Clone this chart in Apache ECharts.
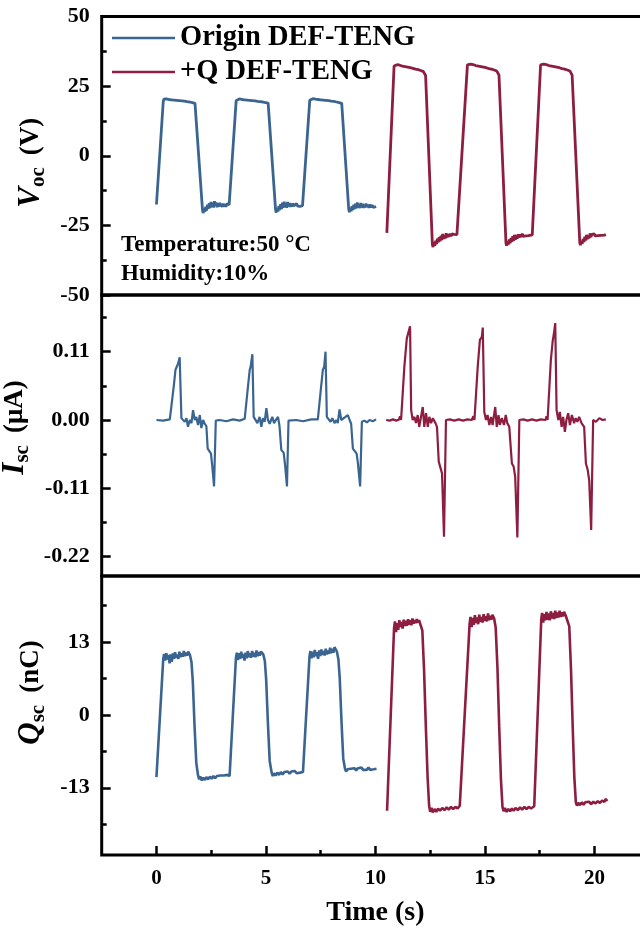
<!DOCTYPE html>
<html>
<head>
<meta charset="utf-8">
<script src="https://cdn.jsdelivr.net/npm/echarts@6/dist/echarts.min.js"></script>
<style>html,body{margin:0;padding:0;background:#fff}#c{width:640px;height:931px}</style>
</head>
<body>
<div id="c"></div>
<script>
const seriesNames = ['Origin DEF-TENG', '+Q DEF-TENG'];
const timeTickLabels = [0, 5, 10, 15, 20];
const timeMinorTicks = [2.5, 7.5, 12.5, 17.5];
const vocTickLabels = [-50, -25, 0, 25, 50];
const vocMinorTicks = [-37.5, -12.5, 12.5, 37.5];
const iscTickLabels = [-0.22, -0.11, 0, 0.11];
const iscMinorTicks = [-0.165, -0.055, 0.055, 0.165];
const qscTickLabels = [-13, 0, 13];
const qscMinorTicks = [-19.5, -6.5, 6.5, 19.5];
const noteLines = ['Temperature:50 °C', 'Humidity:10%'];

const vocOrigin = [[0,-17.5],[0.31,19.4],[0.34,20.3],[0.39,19.7],[0.44,20.4],[0.5,19.8],[0.56,20.2],[0.62,19.6],[0.68,20.1],[0.74,19.6],[0.8,20.0],[0.86,19.5],[0.92,19.9],[0.98,19.4],[1.04,19.8],[1.1,19.3],[1.16,19.7],[1.22,19.2],[1.28,19.6],[1.34,19.1],[1.4,19.4],[1.46,18.9],[1.52,19.3],[1.58,18.8],[1.64,19.1],[1.7,18.6],[1.76,18.8],[1.82,18.2],[2.1,-19.2],[2.13,-20.6],[2.17,-18.9],[2.21,-20.1],[2.25,-18.3],[2.29,-19.7],[2.33,-17.6],[2.37,-19.0],[2.41,-17.0],[2.45,-18.8],[2.49,-16.6],[2.53,-18.4],[2.57,-16.9],[2.61,-18.6],[2.65,-16.3],[2.69,-18.0],[2.73,-16.8],[2.77,-18.5],[2.81,-17.1],[2.85,-18.3],[2.89,-16.9],[2.93,-18.1],[2.97,-17.3],[3.01,-18.4],[3.05,-17.2],[3.09,-18.2],[3.13,-17.4],[3.17,-18.3],[3.21,-17.3],[3.26,-18.0],[3.32,-17.6],
[3.64,19.8],[3.67,20.5],[3.72,19.9],[3.78,20.4],[3.84,19.8],[3.9,20.2],[3.96,19.7],[4.02,20.1],[4.08,19.6],[4.14,20.0],[4.2,19.5],[4.26,19.9],[4.32,19.4],[4.38,19.8],[4.44,19.3],[4.5,19.7],[4.56,19.2],[4.62,19.5],[4.68,19.0],[4.74,19.4],[4.8,18.9],[4.86,19.3],[4.92,18.8],[4.98,19.1],[5.04,18.7],[5.1,18.9],[5.16,18.3],[5.44,-19.4],[5.47,-20.4],[5.51,-18.8],[5.55,-20.0],[5.59,-18.0],[5.63,-19.5],[5.67,-17.4],[5.71,-19.1],[5.75,-16.9],[5.79,-18.7],[5.83,-16.5],[5.87,-18.4],[5.91,-17.0],[5.95,-18.7],[5.99,-16.6],[6.03,-18.2],[6.07,-17.0],[6.11,-18.4],[6.15,-17.2],[6.19,-18.3],[6.23,-17.1],[6.27,-18.0],[6.31,-17.3],[6.35,-18.3],[6.4,-17.2],[6.45,-18.1],[6.5,-17.4],[6.55,-18.2],[6.6,-17.5],[6.67,-17.9],
[7.0,19.9],[7.03,20.6],[7.08,20.0],[7.14,20.5],[7.2,19.9],[7.26,20.3],[7.32,19.8],[7.38,20.2],[7.44,19.7],[7.5,20.1],[7.56,19.6],[7.62,20.0],[7.68,19.5],[7.74,19.9],[7.8,19.4],[7.86,19.8],[7.92,19.3],[7.98,19.6],[8.04,19.1],[8.1,19.5],[8.16,19.0],[8.22,19.3],[8.28,18.8],[8.34,19.1],[8.4,18.7],[8.46,18.8],[8.5,18.2],[8.78,-19.2],[8.81,-20.3],[8.85,-18.7],[8.89,-19.9],[8.93,-18.1],[8.97,-19.5],[9.01,-17.6],[9.05,-19.1],[9.09,-17.2],[9.13,-18.9],[9.17,-16.8],[9.21,-18.6],[9.25,-17.4],[9.29,-18.8],[9.33,-17.0],[9.37,-18.5],[9.41,-17.3],[9.45,-18.7],[9.49,-17.5],[9.53,-18.6],[9.57,-17.2],[9.61,-18.4],[9.65,-17.6],[9.7,-18.7],[9.75,-17.5],[9.8,-18.5],[9.85,-17.7],[9.9,-18.6],[9.95,-17.9],[10.03,-18.2]];

const vocCharged = [[10.52,-27.7],[10.85,32.2],[10.88,32.9],[10.93,32.3],[10.99,32.7],[11.05,32.1],[11.11,32.5],[11.17,31.9],[11.23,32.2],[11.29,31.7],[11.35,32.0],[11.41,31.5],[11.47,31.8],[11.53,31.3],[11.59,31.6],[11.65,31.1],[11.71,31.4],[11.77,30.9],[11.83,31.1],[11.89,30.6],[11.95,30.9],[12.01,30.4],[12.07,30.6],[12.13,30.0],[12.19,30.2],[12.25,29.5],[12.29,28.8],[12.6,-31.9],[12.63,-32.8],[12.67,-31.1],[12.71,-32.3],[12.75,-30.5],[12.79,-31.7],[12.83,-29.8],[12.87,-31.1],[12.91,-29.3],[12.95,-30.7],[12.99,-28.7],[13.03,-30.3],[13.07,-28.1],[13.11,-29.9],[13.15,-28.6],[13.19,-29.7],[13.23,-27.8],[13.27,-29.3],[13.31,-28.2],[13.35,-29.1],[13.4,-28.0],[13.45,-28.9],[13.5,-28.1],[13.55,-28.8],[13.6,-28.2],[13.66,-28.9],[13.72,-28.3],[13.8,-28.5],
[14.2,32.6],[14.23,33.1],[14.28,32.5],[14.34,32.9],[14.4,32.3],[14.46,32.7],[14.52,32.1],[14.58,32.4],[14.64,31.9],[14.7,32.2],[14.76,31.7],[14.82,32.0],[14.88,31.5],[14.94,31.8],[15.0,31.3],[15.06,31.6],[15.12,31.1],[15.18,31.3],[15.24,30.8],[15.3,31.1],[15.36,30.6],[15.42,30.8],[15.48,30.2],[15.54,30.4],[15.6,29.8],[15.64,29.0],[15.96,-31.4],[15.99,-32.3],[16.03,-30.8],[16.07,-31.9],[16.11,-30.1],[16.15,-31.4],[16.19,-29.5],[16.23,-30.9],[16.27,-28.9],[16.31,-30.5],[16.35,-28.4],[16.39,-30.1],[16.43,-28.7],[16.47,-29.8],[16.51,-28.2],[16.55,-29.4],[16.6,-28.3],[16.65,-29.2],[16.7,-28.0],[16.75,-28.9],[16.8,-28.2],[16.86,-28.8],[16.92,-28.1],[16.98,-28.7],[17.05,-28.2],[17.16,-28.4],
[17.54,32.6],[17.57,33.1],[17.62,32.5],[17.68,32.9],[17.74,32.3],[17.8,32.7],[17.86,32.1],[17.92,32.4],[17.98,31.9],[18.04,32.2],[18.1,31.7],[18.16,32.0],[18.22,31.5],[18.28,31.8],[18.34,31.3],[18.4,31.6],[18.46,31.1],[18.52,31.3],[18.58,30.8],[18.64,31.1],[18.7,30.6],[18.76,30.8],[18.82,30.2],[18.88,30.4],[18.94,29.8],[18.98,29.0],[19.33,-31.2],[19.36,-32.1],[19.4,-30.6],[19.44,-31.6],[19.48,-29.9],[19.52,-31.0],[19.56,-29.1],[19.6,-30.4],[19.64,-28.4],[19.68,-29.9],[19.72,-28.8],[19.76,-29.6],[19.8,-27.9],[19.84,-29.2],[19.88,-28.3],[19.93,-29.0],[19.98,-28.0],[20.04,-28.8],[20.1,-28.1],[20.16,-28.7],[20.22,-28.0],[20.3,-28.6],[20.38,-28.1],[20.45,-28.5],[20.52,-28.3]];

const iscOrigin = [[0,0],[0.3,-0.001],[0.61,0.001],[0.7,0.002],[0.79,0.054],[0.87,0.081],[0.94,0.083],[0.99,0.091],[1.06,0.101],[1.14,0.003],[1.22,0.005],[1.29,-0.003],[1.37,0.003],[1.44,-0.011],[1.52,0],[1.6,-0.005],[1.67,0.016],[1.75,0],[1.82,0.005],[1.9,-0.008],[1.98,0.008],[2.05,-0.013],[2.13,0],[2.2,-0.006],[2.28,-0.01],[2.34,-0.046],[2.43,-0.049],[2.49,-0.054],[2.55,-0.075],[2.63,-0.107],[2.71,-0.001],[2.89,0],[3.19,-0.002],[3.5,0.001],[3.8,-0.001],[4.03,0.002],
[4.1,0.001],[4.18,0.054],[4.26,0.081],[4.3,0.086],[4.38,0.106],[4.44,0.005],[4.53,0.008],[4.61,-0.005],[4.71,0.005],[4.79,-0.011],[4.86,0.003],[4.94,-0.003],[5.02,0.019],[5.09,0],[5.17,-0.006],[5.29,0.005],[5.37,-0.005],[5.47,0.001],[5.55,0.005],[5.62,-0.01],[5.7,-0.048],[5.81,-0.053],[5.88,-0.075],[5.96,-0.107],[6.03,-0.001],[6.38,0],[6.69,-0.002],[7.07,0.001],[7.37,0.001],
[7.45,0.002],[7.52,0.054],[7.6,0.081],[7.66,0.086],[7.72,0.11],[7.78,0.005],[7.87,0.005],[7.95,-0.003],[8.03,0.003],[8.13,-0.005],[8.21,0],[8.28,-0.005],[8.36,0.017],[8.44,0],[8.51,-0.003],[8.63,0.005],[8.74,0.008],[8.82,0],[8.89,-0.006],[8.97,-0.046],[9.06,-0.049],[9.14,-0.054],[9.2,-0.07],[9.3,-0.107],[9.38,-0.003],[9.5,-0.001],[9.61,-0.004],[9.73,0],[9.88,-0.002],[10.03,0.001]];

const iscCharged = [[10.49,0],[10.65,-0.001],[10.8,0.001],[10.95,-0.001],[11.08,0.001],[11.12,0.006],[11.17,0],[11.25,-0.001],[11.32,0.086],[11.43,0.131],[11.52,0.134],[11.58,0.151],[11.63,0.016],[11.7,0],[11.78,0.005],[11.85,-0.005],[11.93,0.008],[12.0,-0.011],[12.08,0.005],[12.16,0.021],[12.23,-0.011],[12.31,0.011],[12.39,-0.011],[12.46,0.005],[12.54,-0.005],[12.62,0.003],[12.74,-0.005],[12.81,-0.011],[12.89,-0.067],[12.95,-0.07],[13.04,-0.086],[13.13,-0.188],[13.22,0],[13.4,0.001],[13.6,-0.001],[13.8,0.001],[14.0,-0.001],[14.2,0.001],[14.4,0],[14.47,0.006],[14.52,0],[14.59,-0.001],
[14.67,0.086],[14.77,0.129],[14.86,0.134],[14.9,0.149],[14.97,0.013],[15.05,0],[15.12,0.008],[15.2,-0.008],[15.28,0.005],[15.35,-0.008],[15.47,0.021],[15.54,-0.011],[15.62,0.008],[15.68,-0.008],[15.77,0.003],[15.87,-0.008],[15.95,0.008],[16.02,-0.005],[16.11,-0.011],[16.23,-0.07],[16.31,-0.075],[16.38,-0.091],[16.48,-0.189],[16.57,0],[16.75,0.001],[16.95,-0.001],[17.15,0.001],[17.35,-0.001],[17.55,0.001],[17.77,0],[17.81,0.006],[17.86,0],
[18.01,0.097],[18.09,0.126],[18.16,0.142],[18.21,0.156],[18.27,0.016],[18.35,0],[18.42,0.013],[18.5,-0.011],[18.57,0.005],[18.65,-0.019],[18.72,0],[18.8,0.011],[18.88,-0.008],[18.97,0.008],[19.07,-0.005],[19.14,0.003],[19.22,-0.003],[19.3,0.005],[19.41,-0.005],[19.53,-0.011],[19.61,-0.07],[19.69,-0.08],[19.76,-0.097],[19.85,-0.177],[19.94,0],[20.07,-0.003],[20.22,0.003],[20.37,0],[20.52,0.001]];

const qscOrigin = [[0,-11.1],[0.31,10.0],[0.35,10.9],[0.4,9.7],[0.45,11.0],[0.5,9.9],[0.55,10.7],[0.6,9.2],[0.65,10.8],[0.7,9.5],[0.75,11.0],[0.8,10.0],[0.85,11.2],[0.9,10.2],[0.95,10.8],[1.0,10.0],[1.05,11.3],[1.1,10.3],[1.15,11.0],[1.2,10.4],[1.25,11.4],[1.3,10.5],[1.35,11.1],[1.4,10.6],[1.45,11.3],[1.53,10.7],[1.6,9.4],[1.66,6.0],[1.74,-2.0],[1.82,-8.6],[1.9,-10.8],[1.95,-11.5],[2.0,-11.0],[2.07,-11.7],[2.14,-11.2],[2.21,-11.6],[2.28,-11.1],[2.36,-11.5],[2.44,-11.0],[2.52,-11.4],[2.6,-10.9],[2.68,-11.3],[2.76,-10.9],[2.84,-11.2],[2.92,-10.8],[3.0,-11.1],[3.08,-10.8],[3.16,-11.0],[3.24,-10.7],[3.34,-10.9],
[3.63,10.2],[3.67,11.1],[3.72,9.8],[3.77,11.0],[3.82,10.0],[3.87,11.3],[3.92,10.2],[3.97,10.9],[4.02,9.7],[4.07,11.1],[4.12,10.1],[4.17,11.4],[4.22,10.3],[4.27,11.0],[4.32,10.2],[4.37,11.4],[4.42,10.4],[4.47,11.1],[4.52,10.3],[4.57,11.5],[4.62,10.5],[4.67,11.2],[4.72,10.6],[4.77,11.3],[4.88,10.8],[4.95,9.6],[5.01,6.3],[5.09,-1.5],[5.17,-8.2],[5.26,-10.3],[5.31,-10.9],[5.37,-10.4],[5.44,-10.8],[5.52,-10.3],[5.6,-10.7],[5.68,-10.2],[5.76,-10.6],[5.84,-10.2],[5.92,-10.5],[6.0,-10.1],[6.08,-10.5],[6.16,-10.1],[6.24,-10.4],[6.32,-10.0],[6.4,-10.4],[6.48,-10.1],[6.56,-10.3],[6.69,-10.2],
[6.99,10.5],[7.03,11.4],[7.08,10.1],[7.13,11.3],[7.18,10.3],[7.23,11.6],[7.28,10.5],[7.33,11.2],[7.38,10.0],[7.43,11.5],[7.48,10.5],[7.53,11.7],[7.58,10.7],[7.63,11.4],[7.68,10.6],[7.73,11.8],[7.78,10.8],[7.83,11.5],[7.88,10.9],[7.93,12.0],[7.98,11.0],[8.03,11.8],[8.08,11.1],[8.13,12.1],[8.24,11.3],[8.31,9.9],[8.37,6.5],[8.45,-1.2],[8.53,-7.8],[8.61,-9.6],[8.66,-10.1],[8.72,-9.7],[8.8,-10.0],[8.88,-9.6],[8.96,-9.9],[9.04,-9.5],[9.12,-9.9],[9.2,-9.5],[9.28,-9.8],[9.36,-9.4],[9.44,-9.8],[9.52,-9.5],[9.6,-9.8],[9.68,-9.4],[9.76,-9.8],[9.84,-9.5],[9.92,-9.7],[10.05,-9.6]];

const qscCharged = [[10.53,-17.1],[10.85,15.5],[10.89,16.7],[10.94,14.8],[10.99,16.4],[11.04,15.2],[11.09,16.9],[11.14,15.7],[11.19,16.6],[11.24,15.4],[11.29,17.0],[11.34,15.9],[11.39,16.8],[11.44,15.9],[11.49,17.1],[11.54,16.1],[11.59,16.9],[11.64,16.0],[11.69,17.2],[11.74,16.3],[11.79,16.9],[11.84,16.4],[11.89,17.1],[11.94,16.5],[11.99,16.9],[12.07,16.6],[12.14,15.1],[12.22,8.0],[12.3,-2.0],[12.38,-11.0],[12.45,-16.2],[12.5,-17.3],[12.56,-16.6],[12.62,-17.4],[12.7,-16.8],[12.78,-17.3],[12.86,-16.7],[12.95,-17.1],[13.05,-16.6],[13.15,-17.0],[13.25,-16.5],[13.35,-16.9],[13.45,-16.4],[13.55,-16.8],[13.65,-16.4],[13.75,-16.7],[13.85,-16.2],[13.93,-16.4],
[14.3,16.3],[14.34,17.5],[14.39,15.7],[14.44,17.3],[14.49,16.1],[14.54,17.8],[14.59,16.4],[14.64,17.4],[14.69,16.2],[14.74,17.9],[14.79,16.6],[14.84,17.5],[14.89,16.5],[14.94,18.0],[14.99,16.8],[15.04,17.6],[15.09,16.7],[15.14,18.1],[15.19,16.9],[15.24,17.7],[15.29,17.0],[15.34,17.9],[15.42,17.2],[15.49,15.6],[15.57,8.5],[15.65,-2.0],[15.73,-11.5],[15.8,-16.4],[15.85,-17.2],[15.91,-16.6],[15.99,-17.3],[16.07,-16.8],[16.15,-17.2],[16.23,-16.7],[16.31,-17.1],[16.4,-16.6],[16.5,-17.0],[16.6,-16.5],[16.7,-16.9],[16.8,-16.4],[16.9,-16.8],[17.0,-16.4],[17.1,-16.7],[17.25,-16.3],
[17.57,17.0],[17.61,18.2],[17.66,16.5],[17.71,18.0],[17.76,16.9],[17.81,18.4],[17.86,17.0],[17.91,18.1],[17.96,16.9],[18.01,18.5],[18.06,17.2],[18.11,18.2],[18.16,17.1],[18.21,18.6],[18.26,17.3],[18.31,18.3],[18.36,17.4],[18.41,18.6],[18.46,17.5],[18.51,18.3],[18.56,17.6],[18.61,18.4],[18.69,17.7],[18.78,17.4],[18.85,15.8],[18.93,8.0],[19.01,-2.5],[19.08,-11.0],[19.15,-15.6],[19.2,-16.2],[19.26,-15.7],[19.34,-16.1],[19.42,-15.6],[19.5,-16.0],[19.58,-15.6],[19.66,-15.9],[19.75,-15.5],[19.85,-15.9],[19.95,-15.5],[20.05,-15.8],[20.15,-15.4],[20.25,-15.7],[20.35,-15.3],[20.45,-15.5],[20.52,-15.0],[20.58,-15.4]];

const FONT = '"Liberation Serif", "Times New Roman", serif';
const BLUE = '#3b6591';
const RED = '#8d1e40';
const GL = 101.7, GW = 547.5;
const grids = [
  {left: GL, width: GW, top: 16.5, height: 278.5},
  {left: GL, width: GW, top: 295, height: 281},
  {left: GL, width: GW, top: 576, height: 279}
].map(g => Object.assign(g, {show: true, borderColor: '#000', borderWidth: 3, backgroundColor: 'transparent', outerBoundsMode: 'none', containLabel: false}));

const tickLine = {color: '#000', width: 2.5};
const noLine = {show: false, onZero: false};

function yAxes(gi, min, max, labels, minors, fmt, name, pad) {
  const rich = {
    i: {fontFamily: FONT, fontSize: 31, fontWeight: 'bold', fontStyle: 'italic', color: '#000', lineHeight: 36},
    s: {fontFamily: FONT, fontSize: 21, fontWeight: 'bold', color: '#000', lineHeight: 21, verticalAlign: 'bottom'},
    n: {fontFamily: FONT, fontSize: 27, fontWeight: 'bold', color: '#000', lineHeight: 36, padding: [0, 0, 0, 12]}
  };
  return [{
    type: 'value', gridIndex: gi, position: 'left', min: min, max: max,
    axisLine: noLine, splitLine: {show: false},
    axisTick: {show: true, inside: true, length: 9, lineStyle: tickLine, customValues: labels},
    axisLabel: {show: true, customValues: labels, formatter: fmt, margin: 12, color: '#000',
      fontFamily: FONT, fontSize: 22, fontWeight: 'bold'},
    name: name, nameLocation: 'middle', nameGap: 53, nameTextStyle: {rich: rich, padding: pad}
  }, {
    type: 'value', gridIndex: gi, position: 'left', min: min, max: max,
    axisLine: noLine, splitLine: {show: false}, axisLabel: {show: false},
    axisTick: {show: true, inside: true, length: 5, lineStyle: tickLine, customValues: minors}
  }];
}

const xAxes = [0, 1].map(gi => ({
  type: 'value', gridIndex: gi, min: -2.5, max: 22.5, position: 'bottom',
  axisLine: noLine, axisTick: {show: false}, axisLabel: {show: false}, splitLine: {show: false}
}));
xAxes.push({
  type: 'value', gridIndex: 2, min: -2.5, max: 22.5, position: 'bottom',
  axisLine: noLine, splitLine: {show: false},
  axisTick: {show: true, inside: true, length: 9, lineStyle: tickLine, customValues: timeTickLabels},
  axisLabel: {show: true, customValues: timeTickLabels, margin: 13, color: '#000', fontFamily: FONT, fontSize: 21, fontWeight: 'bold'},
  name: 'Time (s)', nameLocation: 'middle', nameGap: 44,
  nameTextStyle: {fontFamily: FONT, fontSize: 28, fontWeight: 'bold', color: '#000'}
});
xAxes.push({
  type: 'value', gridIndex: 2, min: -2.5, max: 22.5, position: 'bottom',
  axisLine: noLine, splitLine: {show: false}, axisLabel: {show: false},
  axisTick: {show: true, inside: true, length: 5, lineStyle: tickLine, customValues: timeMinorTicks}
});

const yAx = [].concat(
  yAxes(0, -50, 50, vocTickLabels, vocMinorTicks, v => String(v), '{i|V}{s|oc}{n|(V)}', [0, 14, 0, 0]),
  yAxes(1, -0.2512, 0.2013, iscTickLabels, iscMinorTicks, v => v.toFixed(2), '{i|I}{s|sc}{n|(μA)}', [0, 0, 0, 16]),
  yAxes(2, -25, 24.8, qscTickLabels, qscMinorTicks, v => String(v), '{i|Q}{s|sc}{n|(nC)}', [0, 0, 0, 46])
);

function line(name, data, xi, yi, color, w) {
  return {type: 'line', name: name, data: data, xAxisIndex: xi, yAxisIndex: yi,
    showSymbol: false, symbol: 'none', lineStyle: {color: color, width: w}, itemStyle: {color: color}};
}

const chart = echarts.init(document.getElementById('c'), null, {renderer: 'canvas'});
chart.setOption({
  animation: false,
  backgroundColor: '#fff',
  grid: grids,
  xAxis: xAxes,
  yAxis: yAx,
  legend: {
    data: seriesNames, orient: 'vertical', left: 112, top: 23, padding: 0,
    icon: 'rect', itemWidth: 63, itemHeight: 2.5, itemGap: 4,
    textStyle: {fontFamily: FONT, fontSize: 28.5, fontWeight: 'bold', color: '#000', lineHeight: 30}
  },
  title: {
    text: noteLines.join('\n'), left: 121, top: 231, padding: 0,
    textStyle: {fontFamily: FONT, fontSize: 23, fontWeight: 'bold', color: '#000', lineHeight: 29}
  },
  series: [
    line(seriesNames[0], vocOrigin, 0, 0, BLUE, 2.8),
    line(seriesNames[1], vocCharged, 0, 0, RED, 2.8),
    line(seriesNames[0], iscOrigin, 1, 2, BLUE, 2.2),
    line(seriesNames[1], iscCharged, 1, 2, RED, 2.2),
    line(seriesNames[0], qscOrigin, 2, 4, BLUE, 2.6),
    line(seriesNames[1], qscCharged, 2, 4, RED, 2.6)
  ]
});
</script>
</body>
</html>
